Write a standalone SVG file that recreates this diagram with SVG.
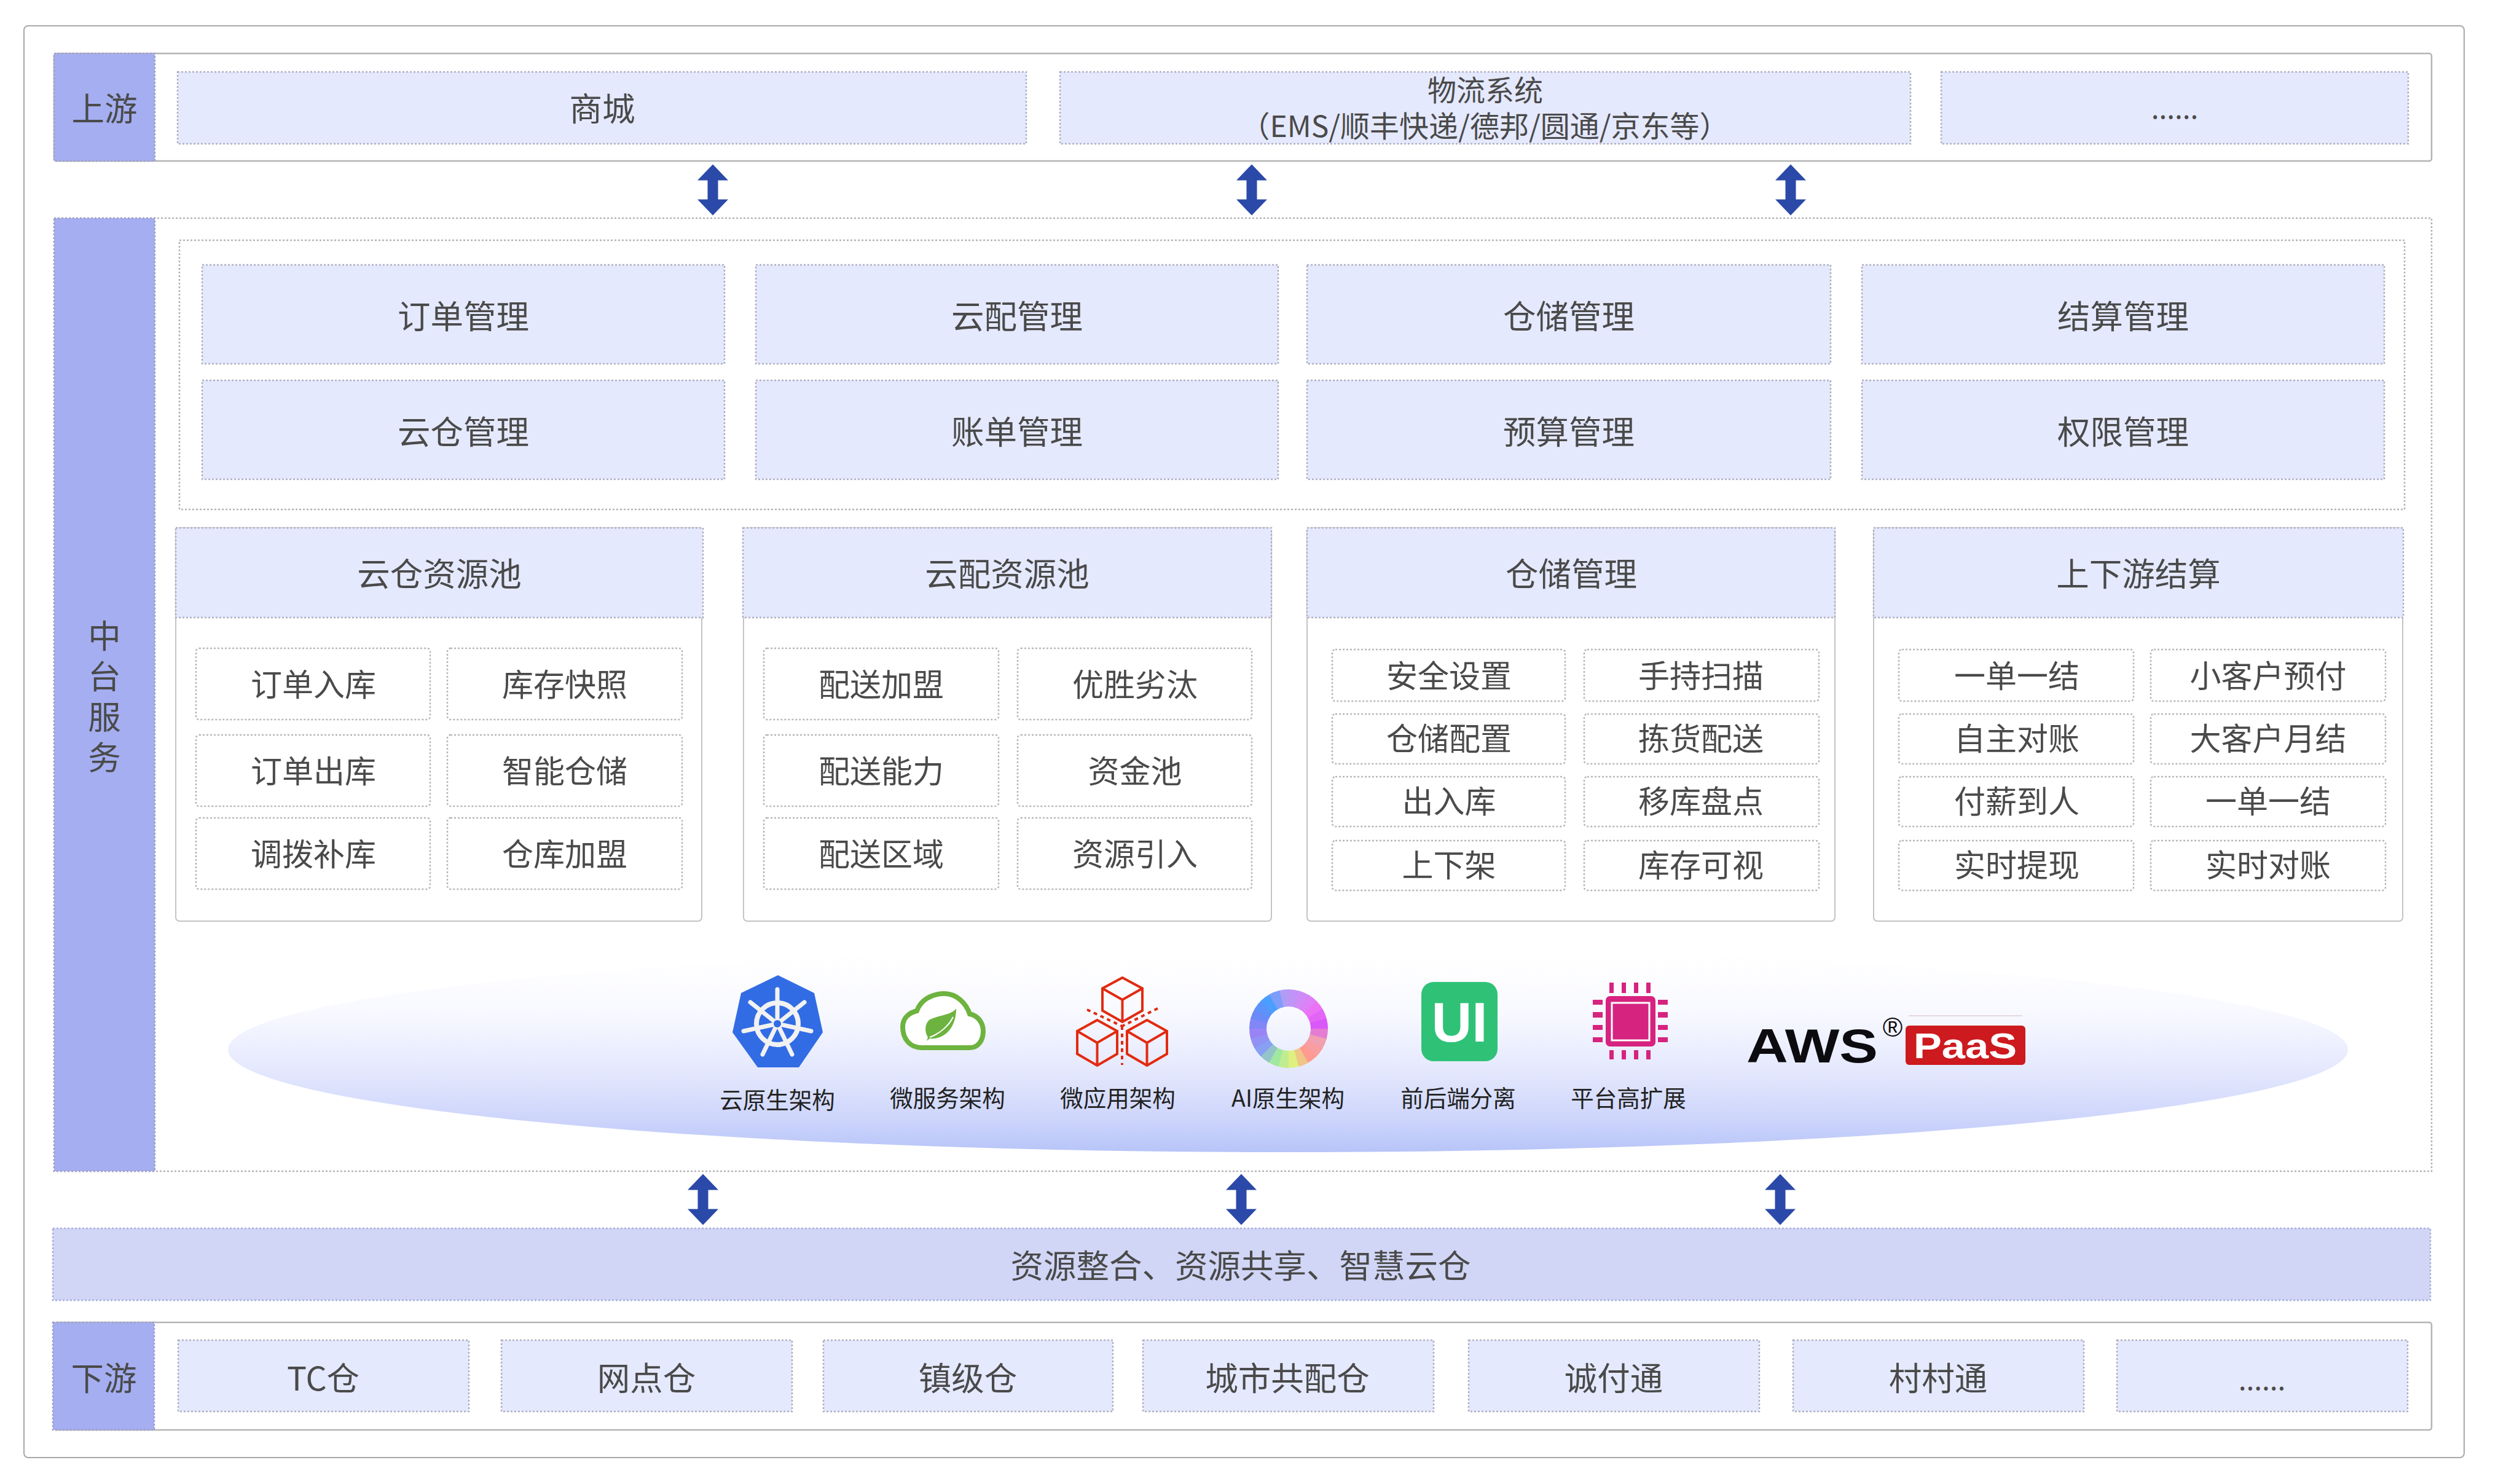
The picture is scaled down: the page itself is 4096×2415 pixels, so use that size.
<svg xmlns="http://www.w3.org/2000/svg" width="4096" height="2415" viewBox="0 0 4096 2415">
<style>
text{font-family:"Noto Sans CJK SC","Noto Sans",sans-serif;text-anchor:middle;fill:#4a4a4a;font-size:53.5px}
.sm{font-size:51px}.lb{font-size:37.5px;fill:#222}
.frame{fill:#fff;stroke:#a8a8a8;stroke-width:2}
.band{fill:#fff;stroke:#b4b4b4;stroke-width:2.5}
.dotband{fill:#fff;stroke:#b4b4b4;stroke-width:2.5;stroke-dasharray:3 3}
.tag{fill:#a4aef0;stroke:#a0a0c8;stroke-width:2.5;stroke-dasharray:3 3}
.lt{fill:#e5e9fe;stroke:#b0b0c0;stroke-width:2.5;stroke-dasharray:3 3}
.item{fill:#fff;stroke:#b8b8b8;stroke-width:2.5;stroke-dasharray:3 3}
.card{fill:#fff;stroke:#c4c4c4;stroke-width:2}
.wh{stroke:#f2f2f2;fill:none;stroke-width:7;stroke-linecap:round}
.rd{fill:none;stroke:#e22a10;stroke-width:4;stroke-linejoin:miter}
.pin{fill:#d6237f}
.rg{fill:none;stroke-width:28;stroke-dasharray:14.5 300}
</style>
<defs>
<linearGradient id="gl" x1="0" y1="0" x2="0" y2="1">
<stop offset="0" stop-color="#fff"/><stop offset=".1" stop-color="#fefeff"/><stop offset=".32" stop-color="#f8f9ff"/><stop offset=".62" stop-color="#e3e7fd"/><stop offset=".85" stop-color="#ccd4fb"/><stop offset="1" stop-color="#b7c4f8"/>
</linearGradient>
<path id="dbl" fill="#2b49a8" d="M0-41.5L25-15.5H8.5V15.5H25L0 41.5L-25 15.5H-8.5V-15.5H-25Z"/>
<path id="cube" d="M32.5 0L65 18V55L32.5 74L0 55V18ZM0 18L32.5 37L65 18M32.5 37V74"/>
</defs>
<rect width="4096" height="2415" fill="#fff"/>
<rect id="frame" class="frame" x="39" y="42" width="3971" height="2330" rx="7"/>

<g id="upstream">
<rect class="band" x="88" y="87" width="3869" height="175" rx="4"/>
<rect class="tag" x="88" y="87" width="164" height="175"/>
<text x="170" y="197">上游</text>
<g id="up-mall"><rect class="lt" x="289" y="117" width="1381" height="117"/><text x="980" y="197">商城</text></g>
<g id="up-logistics"><rect class="lt" x="1725" y="117" width="1384" height="117"/><text x="2417" y="164" style="font-size:47px">物流系统</text><text x="2416" y="223" style="font-size:48px">（EMS/顺丰快递/德邦/圆通/京东等）</text></g>
<g id="up-more"><rect class="lt" x="3159" y="117" width="760" height="117"/><text x="3539" y="193" style="font-size:46px">......</text></g>
</g>

<g id="middle">
<rect class="dotband" x="88" y="355" width="3869" height="1551"/>
<rect class="tag" x="88" y="355" width="164" height="1551"/>
<text x="170" y="1055"><tspan x="170">中</tspan><tspan x="170" dy="66">台</tspan><tspan x="170" dy="66">服</tspan><tspan x="170" dy="66">务</tspan></text>
<rect class="dotband" x="292" y="391" width="3621" height="438"/>
</g>

<g id="mgmt">
<g id="m1"><rect class="lt" x="329" y="431" width="850" height="161"/><text x="754" y="535">订单管理</text></g>
<g id="m2"><rect class="lt" x="1230" y="431" width="850" height="161"/><text x="1655" y="535">云配管理</text></g>
<g id="m3"><rect class="lt" x="2127" y="431" width="852" height="161"/><text x="2553" y="535">仓储管理</text></g>
<g id="m4"><rect class="lt" x="3030" y="431" width="850" height="161"/><text x="3455" y="535">结算管理</text></g>
<g id="m5"><rect class="lt" x="329" y="619" width="850" height="161"/><text x="754" y="723">云仓管理</text></g>
<g id="m6"><rect class="lt" x="1230" y="619" width="850" height="161"/><text x="1655" y="723">账单管理</text></g>
<g id="m7"><rect class="lt" x="2127" y="619" width="852" height="161"/><text x="2553" y="723">预算管理</text></g>
<g id="m8"><rect class="lt" x="3030" y="619" width="850" height="161"/><text x="3455" y="723">权限管理</text></g>
</g>

<g id="pool1" transform="translate(0 2)">
<rect class="card" x="286" y="857" width="856" height="640" rx="6"/>
<rect class="lt" x="286" y="857" width="858" height="146"/><text x="715" y="952">云仓资源池</text>
<rect class="item" x="319" y="1053" width="381" height="116" rx="5"/><text class="sm" x="510" y="1131">订单入库</text>
<rect class="item" x="728" y="1053" width="382" height="116" rx="5"/><text class="sm" x="919" y="1131">库存快照</text>
<rect class="item" x="319" y="1194" width="381" height="116" rx="5"/><text class="sm" x="510" y="1272">订单出库</text>
<rect class="item" x="728" y="1194" width="382" height="116" rx="5"/><text class="sm" x="919" y="1272">智能仓储</text>
<rect class="item" x="319" y="1329" width="381" height="116" rx="5"/><text class="sm" x="510" y="1407">调拨补库</text>
<rect class="item" x="728" y="1329" width="382" height="116" rx="5"/><text class="sm" x="919" y="1407">仓库加盟</text>
</g>
<g id="pool2" transform="translate(0 2)">
<rect class="card" x="1210" y="857" width="859" height="640" rx="6"/>
<rect class="lt" x="1209" y="857" width="860" height="146"/><text x="1639" y="952">云配资源池</text>
<rect class="item" x="1243" y="1053" width="382" height="116" rx="5"/><text class="sm" x="1434" y="1131">配送加盟</text>
<rect class="item" x="1656" y="1053" width="381" height="116" rx="5"/><text class="sm" x="1847" y="1131">优胜劣汰</text>
<rect class="item" x="1243" y="1194" width="382" height="116" rx="5"/><text class="sm" x="1434" y="1272">配送能力</text>
<rect class="item" x="1656" y="1194" width="381" height="116" rx="5"/><text class="sm" x="1847" y="1272">资金池</text>
<rect class="item" x="1243" y="1329" width="382" height="116" rx="5"/><text class="sm" x="1434" y="1407">配送区域</text>
<rect class="item" x="1656" y="1329" width="381" height="116" rx="5"/><text class="sm" x="1847" y="1407">资源引入</text>
</g>
<g id="pool3" transform="translate(0 2)">
<rect class="card" x="2127" y="857" width="859" height="640" rx="6"/>
<rect class="lt" x="2127" y="857" width="859" height="146"/><text x="2557" y="952">仓储管理</text>
<rect class="item" x="2168" y="1055" width="379" height="84" rx="5"/><text class="sm" x="2358" y="1117">安全设置</text>
<rect class="item" x="2578" y="1055" width="382" height="84" rx="5"/><text class="sm" x="2768" y="1117">手持扫描</text>
<rect class="item" x="2168" y="1160" width="379" height="81" rx="5"/><text class="sm" x="2358" y="1219">仓储配置</text>
<rect class="item" x="2578" y="1160" width="382" height="81" rx="5"/><text class="sm" x="2768" y="1219">拣货配送</text>
<rect class="item" x="2168" y="1262" width="379" height="81" rx="5"/><text class="sm" x="2358" y="1321">出入库</text>
<rect class="item" x="2578" y="1262" width="382" height="81" rx="5"/><text class="sm" x="2768" y="1321">移库盘点</text>
<rect class="item" x="2168" y="1366" width="379" height="81" rx="5"/><text class="sm" x="2358" y="1425">上下架</text>
<rect class="item" x="2578" y="1366" width="382" height="81" rx="5"/><text class="sm" x="2768" y="1425">库存可视</text>
</g>
<g id="pool4" transform="translate(0 2)">
<rect class="card" x="3049" y="857" width="861" height="640" rx="6"/>
<rect class="lt" x="3049" y="857" width="862" height="146"/><text x="3480" y="952">上下游结算</text>
<rect class="item" x="3090" y="1055" width="382" height="84" rx="5"/><text class="sm" x="3282" y="1117">一单一结</text>
<rect class="item" x="3500" y="1055" width="382" height="84" rx="5"/><text class="sm" x="3691" y="1117">小客户预付</text>
<rect class="item" x="3090" y="1160" width="382" height="81" rx="5"/><text class="sm" x="3282" y="1219">自主对账</text>
<rect class="item" x="3500" y="1160" width="382" height="81" rx="5"/><text class="sm" x="3691" y="1219">大客户月结</text>
<rect class="item" x="3090" y="1262" width="382" height="81" rx="5"/><text class="sm" x="3282" y="1321">付薪到人</text>
<rect class="item" x="3500" y="1262" width="382" height="81" rx="5"/><text class="sm" x="3691" y="1321">一单一结</text>
<rect class="item" x="3090" y="1366" width="382" height="81" rx="5"/><text class="sm" x="3282" y="1425">实时提现</text>
<rect class="item" x="3500" y="1366" width="382" height="81" rx="5"/><text class="sm" x="3691" y="1425">实时对账</text>
</g>

<ellipse id="platform" cx="2096" cy="1708" rx="1725" ry="167" fill="url(#gl)"/>

<g id="icon-k8s">
<path fill="#326ce5" d="M1266 1587L1325 1616L1339 1680L1300 1737H1233L1192 1680L1206 1616Z"/>
<circle class="wh" cx="1265" cy="1666" r="34" style="stroke-width:8"/>
<path class="wh" d="M1265 1666V1610M1265 1666L1309 1631M1265 1666L1221 1631M1265 1666L1320 1678M1265 1666L1210 1678M1265 1666L1289 1716M1265 1666L1241 1716"/>
<circle cx="1265" cy="1666" r="6" fill="#326ce5"/>
<text class="lb" x="1265" y="1804">云原生架构</text>
</g>
<g id="icon-spring">
<path fill="#fff" stroke="#6db33f" stroke-width="8" d="M1500 1705C1482 1705 1469 1692 1469 1671C1469 1656 1480 1648 1492 1645C1498 1628 1515 1617 1537 1617C1556 1617 1572 1632 1578 1650C1592 1653 1600 1665 1600 1678C1600 1693 1592 1705 1578 1705Z"/>
<path fill="#6db33f" d="M1556 1641C1550 1652 1525 1652 1512 1660C1504 1668 1505 1680 1510 1688L1508 1694L1513 1690C1535 1692 1556 1675 1556 1641Z"/>
<path fill="none" stroke="#fff" stroke-width="2" d="M1513 1688C1530 1682 1545 1668 1551 1655"/>
<text class="lb" x="1542" y="1801">微服务架构</text>
</g>
<g id="icon-cubes">
<use href="#cube" class="rd" transform="translate(1794 1591) scale(1 .973)"/>
<use href="#cube" class="rd" x="1753" y="1660"/>
<use href="#cube" class="rd" x="1834" y="1660"/>
<path fill="none" stroke="#e22a10" stroke-width="4" stroke-dasharray="6 6" d="M1769 1643L1826 1670M1884 1641L1826 1670M1826 1670V1733"/>
<text class="lb" x="1819" y="1801">微应用架构</text>
</g>
<g id="icon-ring">
<circle class="rg" cx="2097" cy="1674" r="50" stroke="#b19cf5" transform="rotate(-105 2097 1674)"/>
<circle class="rg" cx="2097" cy="1674" r="50" stroke="#c094f6" transform="rotate(-90 2097 1674)"/>
<circle class="rg" cx="2097" cy="1674" r="50" stroke="#cf8cf7" transform="rotate(-75 2097 1674)"/>
<circle class="rg" cx="2097" cy="1674" r="50" stroke="#de80f6" transform="rotate(-60 2097 1674)"/>
<circle class="rg" cx="2097" cy="1674" r="50" stroke="#ec72f5" transform="rotate(-45 2097 1674)"/>
<circle class="rg" cx="2097" cy="1674" r="50" stroke="#e265f6" transform="rotate(-30 2097 1674)"/>
<circle class="rg" cx="2097" cy="1674" r="50" stroke="#d858f8" transform="rotate(-15 2097 1674)"/>
<circle class="rg" cx="2097" cy="1674" r="50" stroke="#e47cd4" transform="rotate(0 2097 1674)"/>
<circle class="rg" cx="2097" cy="1674" r="50" stroke="#f0a0b0" transform="rotate(15 2097 1674)"/>
<circle class="rg" cx="2097" cy="1674" r="50" stroke="#f89da0" transform="rotate(30 2097 1674)"/>
<circle class="rg" cx="2097" cy="1674" r="50" stroke="#ff9a90" transform="rotate(45 2097 1674)"/>
<circle class="rg" cx="2097" cy="1674" r="50" stroke="#efc588" transform="rotate(60 2097 1674)"/>
<circle class="rg" cx="2097" cy="1674" r="50" stroke="#dff080" transform="rotate(75 2097 1674)"/>
<circle class="rg" cx="2097" cy="1674" r="50" stroke="#c0ec90" transform="rotate(90 2097 1674)"/>
<circle class="rg" cx="2097" cy="1674" r="50" stroke="#a0e8a0" transform="rotate(105 2097 1674)"/>
<circle class="rg" cx="2097" cy="1674" r="50" stroke="#94c4ca" transform="rotate(120 2097 1674)"/>
<circle class="rg" cx="2097" cy="1674" r="50" stroke="#88a0f4" transform="rotate(135 2097 1674)"/>
<circle class="rg" cx="2097" cy="1674" r="50" stroke="#9192f4" transform="rotate(150 2097 1674)"/>
<circle class="rg" cx="2097" cy="1674" r="50" stroke="#9a84f5" transform="rotate(165 2097 1674)"/>
<circle class="rg" cx="2097" cy="1674" r="50" stroke="#8287f6" transform="rotate(180 2097 1674)"/>
<circle class="rg" cx="2097" cy="1674" r="50" stroke="#6a8af8" transform="rotate(195 2097 1674)"/>
<circle class="rg" cx="2097" cy="1674" r="50" stroke="#5a94fb" transform="rotate(210 2097 1674)"/>
<circle class="rg" cx="2097" cy="1674" r="50" stroke="#4a9eff" transform="rotate(225 2097 1674)"/>
<circle class="rg" cx="2097" cy="1674" r="50" stroke="#7d9dfa" transform="rotate(240 2097 1674)"/>
<text class="lb" x="2096" y="1801">AI原生架构</text>
</g>
<g id="icon-ui">
<rect x="2313" y="1598" width="124" height="129" rx="20" fill="#2fc277"/>
<text x="2375" y="1695" style="font-family:'Liberation Sans',sans-serif;font-weight:700;font-size:91px;fill:#fff">UI</text>
<text class="lb" x="2373" y="1801">前后端分离</text>
</g>
<g id="icon-chip" transform="translate(4 0)">
<rect class="pin" x="2609" y="1621" width="81" height="82" rx="7"/>
<rect x="2619" y="1632" width="61" height="61" fill="#d6237f" stroke="#fff" stroke-width="3"/>
<path class="pin" d="M2615 1599h7v17h-7zM2635 1599h7v17h-7zM2655 1599h7v17h-7zM2675 1599h7v17h-7zM2615 1709h7v15h-7zM2635 1709h7v15h-7zM2655 1709h7v15h-7zM2675 1709h7v15h-7zM2588 1627h16v8h-16zM2588 1647h16v9h-16zM2588 1668h16v8h-16zM2588 1688h16v8h-16zM2694 1627h16v8h-16zM2694 1647h16v9h-16zM2694 1668h16v8h-16zM2694 1688h16v8h-16z"/>
<text class="lb" x="2646" y="1801">平台高扩展</text>
</g>
<g id="logo-aws">
<text x="2949" y="1729" textLength="214" lengthAdjust="spacingAndGlyphs" style="font-family:'Liberation Sans',sans-serif;font-weight:700;font-size:78px;fill:#0c0c10">AWS</text>
<text x="3080" y="1687" style="font-family:'Liberation Sans',sans-serif;font-size:44px;fill:#0c0c10">®</text>
<path d="M3106 1653H3291" stroke="#e8d8e0" stroke-width="2"/>
<rect x="3101" y="1669" width="195" height="64" rx="6" fill="#cc1a1f"/>
<text x="3198" y="1722" textLength="168" lengthAdjust="spacingAndGlyphs" style="font-family:'Liberation Sans',sans-serif;font-weight:700;font-size:58px;fill:#fff">PaaS</text>
</g>

<g id="resource-bar">
<rect x="86" y="1999" width="3869" height="117" fill="#d1d6f6" stroke="#a8aedc" stroke-width="2.5" stroke-dasharray="3 3"/>
<text x="2019" y="2080">资源整合、资源共享、智慧云仓</text>
</g>

<g id="downstream">
<rect class="band" x="88" y="2152" width="3869" height="175" rx="4"/>
<rect class="tag" x="86" y="2152" width="165" height="175"/>
<text x="169" y="2263">下游</text>
<g id="d1"><rect class="lt" x="290" y="2181" width="473" height="116"/><text x="526" y="2263">TC仓</text></g>
<g id="d2"><rect class="lt" x="816" y="2181" width="473" height="116"/><text x="1052" y="2263">网点仓</text></g>
<g id="d3"><rect class="lt" x="1340" y="2181" width="471" height="116"/><text x="1575" y="2263">镇级仓</text></g>
<g id="d4"><rect class="lt" x="1860" y="2181" width="473" height="116"/><text x="2095" y="2263">城市共配仓</text></g>
<g id="d5"><rect class="lt" x="2390" y="2181" width="473" height="116"/><text x="2626" y="2263">诚付通</text></g>
<g id="d6"><rect class="lt" x="2918" y="2181" width="473" height="116"/><text x="3154" y="2263">村村通</text></g>
<g id="d7"><rect class="lt" x="3445" y="2181" width="473" height="116"/><text x="3681" y="2262" style="font-size:46px">......</text></g>
</g>

<g id="connectors">
<use href="#dbl" x="1160" y="309"/>
<use href="#dbl" x="2037" y="309"/>
<use href="#dbl" x="2914" y="309"/>
<use href="#dbl" x="1144" y="1952"/>
<use href="#dbl" x="2020" y="1952"/>
<use href="#dbl" x="2897" y="1952"/>
</g>
</svg>
